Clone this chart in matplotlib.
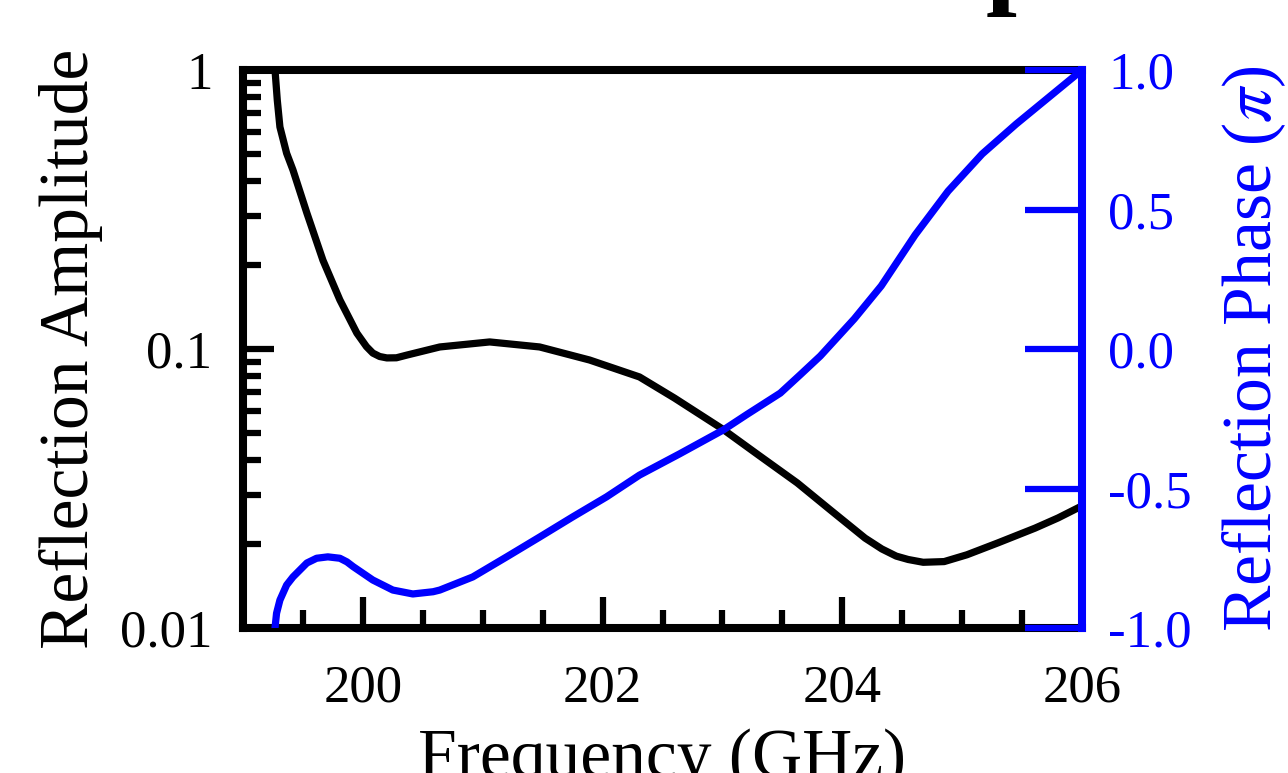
import matplotlib
matplotlib.use("Agg")
import matplotlib.pyplot as plt
from matplotlib.ticker import MultipleLocator, LogLocator, NullFormatter

plt.rcParams['font.family'] = ['Liberation Serif', 'DejaVu Serif']
plt.rcParams['mathtext.fontset'] = 'stix'

# Reflection amplitude (black, log scale)
amp_freq = [199.267, 199.286, 199.308, 199.364, 199.417, 199.533, 199.667, 199.808,
            199.95, 200.03, 200.083, 200.14, 200.2, 200.28, 200.367, 200.642,
            201.058, 201.475, 201.892, 202.308, 202.6, 203.0, 203.3, 203.625,
            203.9, 204.19, 204.33, 204.45, 204.55, 204.675, 204.85, 205.04,
            205.3, 205.608, 205.8, 206.0]
amp_vals = [1.0, 0.78, 0.625, 0.503, 0.438, 0.307, 0.208, 0.150,
            0.114, 0.102, 0.0967, 0.094, 0.0929, 0.093, 0.0951, 0.1017,
            0.106, 0.1017, 0.0913, 0.0794, 0.0667, 0.0517, 0.0417, 0.0331,
            0.0265, 0.0210, 0.0192, 0.0181, 0.0176, 0.0172, 0.0173, 0.0183,
            0.0202, 0.0228, 0.0248, 0.0274]

# Reflection phase (blue, in units of pi)
ph_freq = [199.267, 199.28, 199.308, 199.364, 199.417, 199.533, 199.614, 199.708,
           199.808, 199.867, 199.919, 200.083, 200.25, 200.417, 200.586, 200.642,
           200.917, 201.2, 201.475, 201.75, 202.033, 202.308, 202.642, 203.008,
           203.203, 203.483, 203.65, 203.817, 204.1, 204.325, 204.608, 204.883,
           205.167, 205.45, 205.725, 206.0]
ph_vals = [-1.0, -0.947, -0.90, -0.846, -0.817, -0.767, -0.750, -0.745,
           -0.750, -0.763, -0.780, -0.828, -0.864, -0.878, -0.870, -0.864,
           -0.817, -0.745, -0.674, -0.602, -0.530, -0.452, -0.376, -0.29,
           -0.235, -0.158, -0.092, -0.025, 0.108, 0.226, 0.409, 0.566,
           0.699, 0.806, 0.903, 1.0]

x_major = [200, 202, 204, 206]
x_labels = ['200', '202', '204', '206']
left_ticks = [0.01, 0.1, 1]
left_labels = ['0.01', '0.1', '1']
right_ticks = [-1.0, -0.5, 0.0, 0.5, 1.0]
right_labels = ['-1.0', '-0.5', '0.0', '0.5', '1.0']

W, H = 1288, 773
fig = plt.figure(figsize=(W / 100, H / 100), dpi=100)
ax = fig.add_axes([243 / W, 1 - 628 / H, (1082 - 243) / W, (628 - 70) / H])

lw_sp = 5.8
lw_line = 5.2
ax.plot(amp_freq, amp_vals, color='black', lw=lw_line, solid_joinstyle='round',
        solid_capstyle='round', zorder=3)
ax.set_yscale('log')
ax.set_xlim(199, 206)
ax.set_ylim(0.01, 1)
ax.set_xticks(x_major)
ax.set_xticklabels(x_labels)
ax.xaxis.set_minor_locator(MultipleLocator(0.5))
ax.set_yticks(left_ticks)
ax.set_yticklabels(left_labels)
ax.yaxis.set_minor_locator(LogLocator(base=10, subs=range(2, 10)))
ax.yaxis.set_minor_formatter(NullFormatter())
ax.tick_params(axis='both', which='major', direction='in', length=22, width=4.5,
               labelsize=38, colors='black')
ax.tick_params(axis='both', which='minor', direction='in', length=13, width=4.5)
ax.tick_params(axis='y', which='major', pad=22)
ax.tick_params(axis='x', which='major', pad=26)
ax.tick_params(axis='y', which='both', right=False)
ax.tick_params(axis='x', which='both', top=False)
for s in ['left', 'bottom', 'top']:
    ax.spines[s].set_linewidth(lw_sp)
    ax.spines[s].set_color('black')
ax.spines['right'].set_visible(False)
ax.set_ylabel('Reflection Amplitude', fontsize=50, labelpad=12)
ax.set_xlabel('Frequency (GHz)', fontsize=50, labelpad=12)

ax2 = ax.twinx()
ax2.plot(ph_freq, ph_vals, color='blue', lw=lw_line, solid_joinstyle='round',
         solid_capstyle='round', zorder=3)
ax2.set_ylim(-1, 1)
ax2.set_yticks(right_ticks)
ax2.set_yticklabels(right_labels)
ax2.tick_params(axis='y', which='major', direction='in', length=41, width=4.5,
                labelsize=38, colors='blue', pad=19)
for s in ['left', 'bottom', 'top']:
    ax2.spines[s].set_visible(False)
ax2.spines['right'].set_linewidth(lw_sp)
ax2.spines['right'].set_color('blue')
ax2.set_ylabel('Reflection Phase ($\\pi$)', fontsize=50, color='blue', labelpad=20)

fig.text(1016 / W, 1 + 6 / H, 'p', fontsize=80, fontweight='bold', ha='center',
         va='baseline', color='black')

fig.savefig('out.png', dpi=100)
